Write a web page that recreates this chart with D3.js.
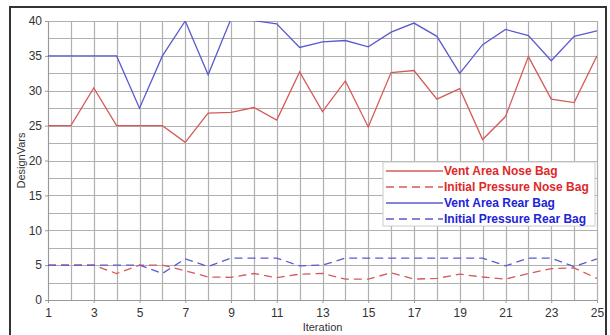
<!DOCTYPE html>
<html>
<head>
<meta charset="utf-8" />
<script src="https://d3js.org/d3.v7.min.js"></script>
<style>
  body { margin: 0; background: #fff; }
  text { font-family: "Liberation Sans", Arial, sans-serif; }
</style>
</head>
<body>
<script>
// data
const iterations = d3.range(1, 26);
const ventNose = [25, 25, 30.4, 25, 25, 25, 22.6, 26.8, 26.9, 27.6, 25.8, 32.7, 27.0, 31.4, 24.8, 32.6, 32.9, 28.8, 30.3, 23.0, 26.3, 34.9, 28.8, 28.3, 35.0];
const pressNose = [5, 5, 5, 3.8, 5, 5, 4.2, 3.3, 3.25, 3.8, 3.2, 3.7, 3.8, 3.0, 3.0, 3.9, 3.0, 3.1, 3.7, 3.3, 3.0, 3.8, 4.5, 4.6, 3.1];
const ventRear = [35, 35, 35, 35, 27.5, 35, 40, 32.3, 40.3, 40.05, 39.6, 36.2, 37.0, 37.2, 36.3, 38.4, 39.7, 37.8, 32.5, 36.6, 38.8, 37.9, 34.3, 37.8, 38.6];
const pressRear = [5, 5, 5, 5, 5, 3.8, 5.9, 4.8, 6, 6, 6, 4.9, 5.0, 6, 6, 6, 6, 6, 6, 6, 4.9, 6, 6, 4.8, 5.9];
const seriesNames = ["Vent Area Nose Bag", "Initial Pressure Nose Bag", "Vent Area Rear Bag", "Initial Pressure Rear Bag"];
const yTicks = [0, 5, 10, 15, 20, 25, 30, 35, 40];
const xTicks = [1, 3, 5, 7, 9, 11, 13, 15, 17, 19, 21, 23, 25];

const W = 610, H = 335;
const plotL = 48, plotR = 597, plotT = 21, plotB = 300;

const svg = d3.select("body").append("svg").attr("width", W).attr("height", H);

const x = d3.scaleLinear().domain([1, 25]).range([plotL, plotR]);
const y = d3.scaleLinear().domain([0, 40]).range([plotB, plotT]);

// outer frame
svg.append("path")
  .attr("d", `M10,${H} V7 H606 V${H}`)
  .attr("fill", "none")
  .attr("stroke", "#333")
  .attr("stroke-width", 2);

// grid
const grid = svg.append("g").attr("stroke", "#b0b0b0").attr("stroke-width", 1.2);
grid.selectAll(".v").data(iterations).join("line")
  .attr("x1", d => Math.round(x(d)) + 0.5).attr("x2", d => Math.round(x(d)) + 0.5)
  .attr("y1", plotT).attr("y2", plotB);
grid.selectAll(".h").data(d3.range(0, 40.1, 2.5)).join("line")
  .attr("y1", d => Math.round(y(d)) + 0.5).attr("y2", d => Math.round(y(d)) + 0.5)
  .attr("x1", plotL).attr("x2", plotR);

// axes
const yAxis = svg.append("g")
  .attr("transform", `translate(${plotL},0)`)
  .call(d3.axisLeft(y).tickValues(yTicks).tickSize(3).tickPadding(3));
const xAxis = svg.append("g")
  .attr("transform", `translate(0,${plotB})`)
  .call(d3.axisBottom(x).tickValues(xTicks).tickSize(3).tickPadding(5));
[yAxis, xAxis].forEach(a => {
  a.select(".domain").attr("stroke", "#999");
  a.selectAll(".tick line").attr("stroke", "#999");
  a.selectAll(".tick text").attr("fill", "#333").style("font-size", "12px");
});

svg.append("text")
  .attr("x", (plotL + plotR) / 2).attr("y", 331)
  .attr("text-anchor", "middle").attr("fill", "#333")
  .style("font-size", "11px").text("Iteration");
svg.append("text")
  .attr("transform", `translate(25,${(plotT + plotB) / 2}) rotate(-90)`)
  .attr("text-anchor", "middle").attr("fill", "#333")
  .style("font-size", "11px").text("DesignVars");

// lines
svg.append("clipPath").attr("id", "clip")
  .append("rect").attr("x", plotL).attr("y", plotT).attr("width", plotR - plotL).attr("height", plotB - plotT);

const line = d3.line().x((d, i) => x(iterations[i])).y(d => y(d));
const series = [
  { name: seriesNames[0], values: ventNose, color: "#d65a5a", dash: null, text: "#e02828" },
  { name: seriesNames[1], values: pressNose, color: "#d65a5a", dash: "8,5", text: "#e02828" },
  { name: seriesNames[2], values: ventRear, color: "#5a5ad0", dash: null, text: "#2222d8" },
  { name: seriesNames[3], values: pressRear, color: "#5a5ad0", dash: "8,5", text: "#2222d8" }
];
svg.append("g").attr("clip-path", "url(#clip)")
  .selectAll("path").data(series).join("path")
  .attr("d", d => line(d.values))
  .attr("fill", "none")
  .attr("stroke", d => d.color)
  .attr("stroke-width", 1.3)
  .attr("stroke-dasharray", d => d.dash);

// legend
const lg = svg.append("g").attr("transform", "translate(383,162)");
lg.append("rect").attr("width", 212).attr("height", 64)
  .attr("fill", "#fff").attr("stroke", "#ccc");
const row = lg.selectAll(".row").data(series).join("g")
  .attr("transform", (d, i) => `translate(0,${9 + i * 16})`);
row.append("line").attr("x1", 3).attr("x2", 60)
  .attr("stroke", d => d.color).attr("stroke-width", 1.3)
  .attr("stroke-dasharray", d => d.dash);
row.append("text").attr("x", 61).attr("y", 4)
  .attr("fill", d => d.text).style("font-size", "12px").style("font-weight", "bold")
  .text(d => d.name);
</script>
</body>
</html>
